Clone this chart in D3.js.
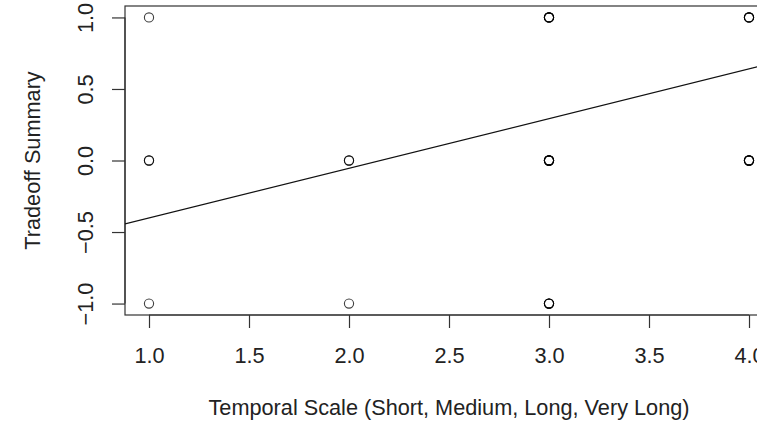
<!DOCTYPE html>
<html>
<head>
<meta charset="utf-8">
<script src="https://cdn.jsdelivr.net/npm/d3@7"></script>
<style>
  html, body { margin: 0; padding: 0; background: #fff; }
  svg { display: block; }
  text { font-family: "Liberation Sans", Arial, Helvetica, sans-serif; fill: #222; }
</style>
</head>
<body>
<svg id="chart" width="757" height="427"></svg>
<script>
// ---- data ----
const pointX     = [1, 1, 1, 2, 2, 3, 3, 3, 4, 4];
const pointY     = [1, 0, -1, 0, -1, 1, 0, -1, 1, 0];
const pointCount = [1, 2, 1, 2, 1, 5, 6, 4, 4, 5];   // overlapping observations
const fitCoef    = [-0.748, 0.347];                   // intercept, slope of the fitted line
const xTicks     = [1.0, 1.5, 2.0, 2.5, 3.0, 3.5, 4.0];
const yTicks     = [-1.0, -0.5, 0.0, 0.5, 1.0];
const xDomain    = [0.88, 4.12];
const yDomain    = [-1.08, 1.08];
const xTitle     = "Temporal Scale (Short, Medium, Long, Very Long)";
const yTitle     = "Tradeoff Summary";

// ---- layout ----
const svg = d3.select("#chart");
const plot = { left: 125, right: 773, top: 6, bottom: 315 };
const x = d3.scaleLinear().domain(xDomain).range([plot.left, plot.right]);
const y = d3.scaleLinear().domain(yDomain).range([plot.bottom, plot.top]);
const fontSize = 21.7;
const axisColor = "#333";

svg.append("defs").append("clipPath").attr("id", "plotclip")
  .append("rect")
  .attr("x", plot.left).attr("y", plot.top)
  .attr("width", plot.right - plot.left).attr("height", plot.bottom - plot.top);

// box
svg.append("rect")
  .attr("x", plot.left).attr("y", plot.top)
  .attr("width", plot.right - plot.left).attr("height", plot.bottom - plot.top)
  .attr("fill", "none").attr("stroke", axisColor).attr("stroke-width", 1.2);

// x axis
const gx = svg.append("g").attr("transform", `translate(0,${plot.bottom})`)
  .call(d3.axisBottom(x).tickValues(xTicks).tickFormat(d3.format(".1f")).tickSize(13));
gx.select(".domain").remove();
gx.selectAll(".tick line").attr("stroke", axisColor).attr("stroke-width", 1.2);
gx.selectAll(".tick text").attr("y", 48).attr("dy", 0)
  .style("font-size", fontSize + "px").style("fill", "#222")
  .style("font-family", '"Liberation Sans", Arial, sans-serif');
gx.append("line")
  .attr("x1", x(xTicks[0])).attr("x2", x(xTicks[xTicks.length - 1]))
  .attr("y1", 0).attr("y2", 0)
  .attr("stroke", axisColor).attr("stroke-width", 1.2);

// y axis
const gy = svg.append("g").attr("transform", `translate(${plot.left},0)`)
  .call(d3.axisLeft(y).tickValues(yTicks).tickFormat(d3.format(".1f")).tickSize(13));
gy.select(".domain").remove();
gy.selectAll(".tick line").attr("stroke", axisColor).attr("stroke-width", 1.2);
gy.selectAll(".tick text")
  .attr("x", 0).attr("y", 0).attr("dy", 0)
  .attr("transform", "translate(-32,0) rotate(-90)")
  .attr("text-anchor", "middle")
  .style("font-size", fontSize + "px").style("fill", "#222")
  .style("font-family", '"Liberation Sans", Arial, sans-serif');
gy.append("line")
  .attr("y1", y(yTicks[0])).attr("y2", y(yTicks[yTicks.length - 1]))
  .attr("x1", 0).attr("x2", 0)
  .attr("stroke", axisColor).attr("stroke-width", 1.2);

// axis titles
svg.append("text")
  .attr("x", (plot.left + plot.right) / 2).attr("y", 415)
  .attr("text-anchor", "middle").style("font-size", fontSize + "px")
  .text(xTitle);
svg.append("text")
  .attr("transform", `translate(40,${(plot.top + plot.bottom) / 2}) rotate(-90)`)
  .attr("text-anchor", "middle").style("font-size", fontSize + "px")
  .text(yTitle);

// fitted line
const xs = xDomain;
svg.append("line")
  .attr("clip-path", "url(#plotclip)")
  .attr("x1", x(xs[0])).attr("y1", y(fitCoef[0] + fitCoef[1] * xs[0]))
  .attr("x2", x(xs[1])).attr("y2", y(fitCoef[0] + fitCoef[1] * xs[1]))
  .attr("stroke", "#111").attr("stroke-width", 1.2);

// points (each observation drawn, overlaps darken the ring)
const obs = [];
pointX.forEach((px, i) => {
  for (let k = 0; k < pointCount[i]; k++) obs.push({ x: px, y: pointY[i] });
});
svg.append("g").selectAll("circle").data(obs).join("circle")
  .attr("cx", d => x(d.x)).attr("cy", d => y(d.y)).attr("r", 4.6)
  .attr("fill", "none").attr("stroke", "#000").attr("stroke-width", 1.1)
  .attr("stroke-opacity", 0.75);
</script>
</body>
</html>
